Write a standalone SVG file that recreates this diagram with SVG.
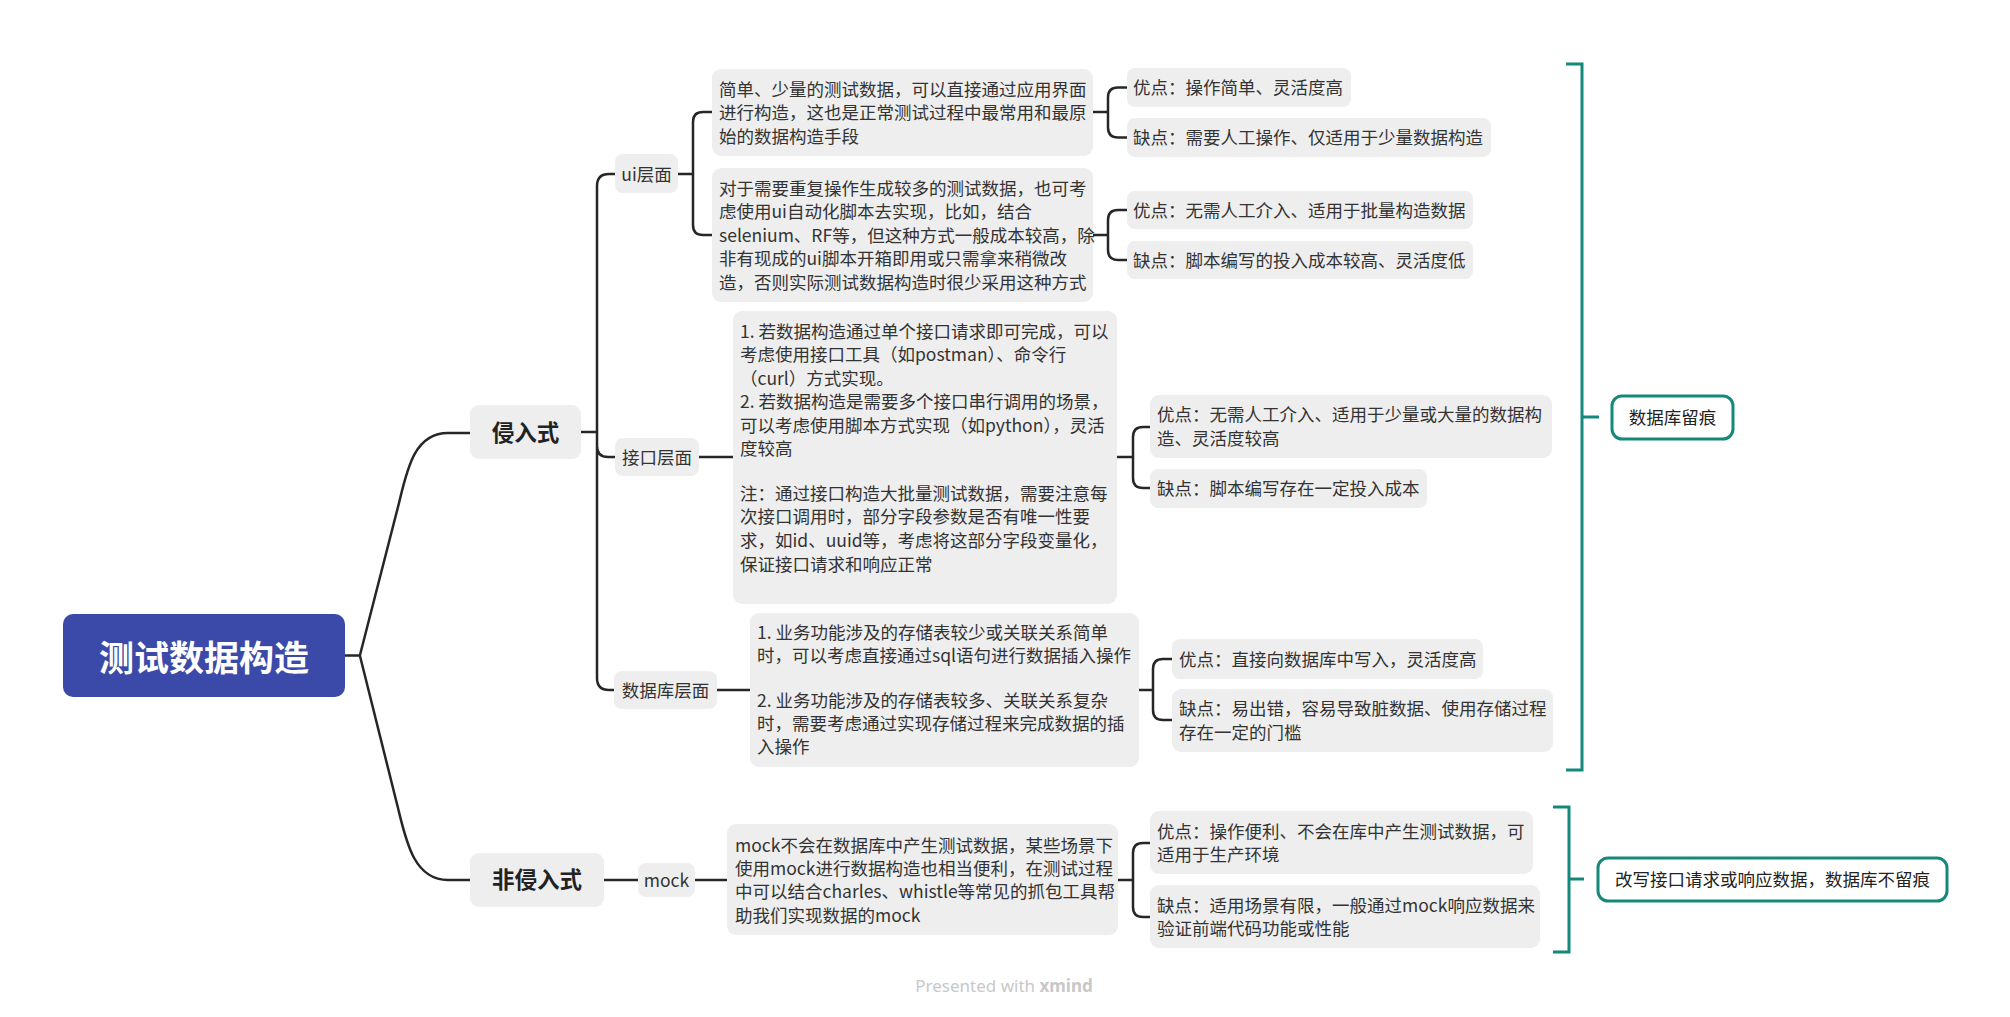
<svg xmlns="http://www.w3.org/2000/svg" width="2010" height="1017" viewBox="0 0 2010 1017">
<style>
.box{fill:#eeeeee}
.t{font-family:"Noto Sans CJK SC","Noto Sans",sans-serif;font-size:17.5px;fill:#333333}
.c{text-anchor:middle}
.b{font-weight:bold;font-size:22.5px;fill:#222222}
.conn{fill:none;stroke:#262626;stroke-width:2.5;stroke-linecap:round;stroke-linejoin:round}
.teal{fill:none;stroke:#12897b;stroke-width:3}
.lab{fill:#ffffff;stroke:#12897b;stroke-width:3}
</style>
<rect width="2010" height="1017" fill="#ffffff"/>
<g id="connectors">
<path class="conn" d="M345,655.5 H360 M360,655 L399,503 C407,470 414,433 448,433 H470"/>
<path class="conn" d="M360,656 L398,808 C406,841 414,880 448,880 H470"/>
<path class="conn" d="M581,432 H597 M615,174 H609 Q597,174 597,186 V678 Q597,690 609,690 H614 M597,446 Q597,457 608,457 H615"/>
<path class="conn" d="M678,174 H693 M712,112 H703 Q693,112 693,122 V225 Q693,235 703,235 H712"/>
<path class="conn" d="M1093,112 H1108 M1127,87.5 H1118 Q1108,87.5 1108,97.5 V127.5 Q1108,137.5 1118,137.5 H1127"/>
<path class="conn" d="M1093,235 H1108 M1127,210 H1118 Q1108,210 1108,220 V250 Q1108,260 1118,260 H1127"/>
<path class="conn" d="M699,457 H733 M1117,457 H1133 M1150,427 H1143 Q1133,427 1133,437 V478 Q1133,488 1143,488 H1150"/>
<path class="conn" d="M717,690 H750 M1139,690 H1153 M1172,659 H1163 Q1153,659 1153,669 V710 Q1153,720 1163,720 H1172"/>
<path class="conn" d="M604,880 H638 M695,880 H727 M1118,880 H1133 M1150,843 H1143 Q1133,843 1133,853 V907 Q1133,917 1143,917 H1150"/>
<path class="teal" d="M1566,64 H1582 V770 H1566 M1582,417 H1599"/>
<path class="teal" d="M1553,807 H1569 V952 H1553 M1569,879 H1584"/>
</g>
<g id="root">
<rect x="63" y="614" width="282" height="83" rx="10" fill="#3b4aa8"/>
<text class="t c" x="204" y="671" style="font-size:35px;font-weight:bold;fill:#ffffff">测试数据构造</text>
</g>
<g id="n-qrs">
<rect class="box" x="470" y="405" width="111" height="54" rx="9"/>
<text class="t c b" x="525.5" y="441">侵入式</text>
</g>
<g id="n-fqrs">
<rect class="box" x="470" y="853" width="134" height="54" rx="9"/>
<text class="t c b" x="537" y="888">非侵入式</text>
</g>
<g id="n-ui">
<rect class="box" x="615" y="154" width="63" height="39" rx="8"/>
<text class="t c" x="646.5" y="180.5">ui层面</text>
</g>
<g id="n-api">
<rect class="box" x="615" y="438" width="84" height="38" rx="8"/>
<text class="t c" x="657" y="463.5">接口层面</text>
</g>
<g id="n-db">
<rect class="box" x="614" y="671" width="103" height="38" rx="8"/>
<text class="t c" x="665.5" y="696.5">数据库层面</text>
</g>
<g id="n-mock">
<rect class="box" x="638" y="863" width="57" height="34" rx="8"/>
<text class="t c" x="666.5" y="886.5">mock</text>
</g>
<g id="n-a1">
<rect class="box" x="712" y="69" width="381" height="87" rx="9"/>
<text class="t" x="719" y="95.5">简单、少量的测试数据，可以直接通过应用界面</text>
<text class="t" x="719" y="119">进行构造，这也是正常测试过程中最常用和最原</text>
<text class="t" x="719" y="142.5">始的数据构造手段</text>
</g>
<g id="n-a2">
<rect class="box" x="712" y="168" width="381" height="134" rx="9"/>
<text class="t" x="719" y="194.5">对于需要重复操作生成较多的测试数据，也可考</text>
<text class="t" x="719" y="218">虑使用ui自动化脚本去实现，比如，结合</text>
<text class="t" x="719" y="241.5">selenium、RF等，但这种方式一般成本较高，除</text>
<text class="t" x="719" y="265">非有现成的ui脚本开箱即用或只需拿来稍微改</text>
<text class="t" x="719" y="288.5">造，否则实际测试数据构造时很少采用这种方式</text>
</g>
<g id="n-b1">
<rect class="box" x="1127" y="68" width="224" height="39" rx="8"/>
<text class="t" x="1133" y="94">优点：操作简单、灵活度高</text>
</g>
<g id="n-b2">
<rect class="box" x="1127" y="118" width="364" height="39" rx="8"/>
<text class="t" x="1133" y="144">缺点：需要人工操作、仅适用于少量数据构造</text>
</g>
<g id="n-b3">
<rect class="box" x="1127" y="191" width="346" height="38" rx="8"/>
<text class="t" x="1133" y="216.5">优点：无需人工介入、适用于批量构造数据</text>
</g>
<g id="n-b4">
<rect class="box" x="1127" y="241" width="346" height="38" rx="8"/>
<text class="t" x="1133" y="266.5">缺点：脚本编写的投入成本较高、灵活度低</text>
</g>
<g id="n-c">
<rect class="box" x="733" y="311" width="384" height="293" rx="9"/>
<text class="t" x="740" y="337.5">1. 若数据构造通过单个接口请求即可完成，可以</text>
<text class="t" x="740" y="361">考虑使用接口工具（如postman）、命令行</text>
<text class="t" x="740" y="384.5">（curl）方式实现。</text>
<text class="t" x="740" y="408">2. 若数据构造是需要多个接口串行调用的场景，</text>
<text class="t" x="740" y="431.5">可以考虑使用脚本方式实现（如python），灵活</text>
<text class="t" x="740" y="455">度较高</text>
<text class="t" x="740" y="499.5">注：通过接口构造大批量测试数据，需要注意每</text>
<text class="t" x="740" y="523">次接口调用时，部分字段参数是否有唯一性要</text>
<text class="t" x="740" y="546.5">求，如id、uuid等，考虑将这部分字段变量化，</text>
<text class="t" x="740" y="570.5">保证接口请求和响应正常</text>
</g>
<g id="n-d1">
<rect class="box" x="1150" y="395" width="402" height="63" rx="9"/>
<text class="t" x="1157" y="421">优点：无需人工介入、适用于少量或大量的数据构</text>
<text class="t" x="1157" y="445">造、灵活度较高</text>
</g>
<g id="n-d2">
<rect class="box" x="1150" y="469" width="277" height="39" rx="8"/>
<text class="t" x="1157" y="494.5">缺点：脚本编写存在一定投入成本</text>
</g>
<g id="n-e">
<rect class="box" x="750" y="613" width="389" height="154" rx="9"/>
<text class="t" x="757" y="638.5">1. 业务功能涉及的存储表较少或关联关系简单</text>
<text class="t" x="757" y="661.5">时，可以考虑直接通过sql语句进行数据插入操作</text>
<text class="t" x="757" y="706.5">2. 业务功能涉及的存储表较多、关联关系复杂</text>
<text class="t" x="757" y="729.5">时，需要考虑通过实现存储过程来完成数据的插</text>
<text class="t" x="757" y="752.5">入操作</text>
</g>
<g id="n-f1">
<rect class="box" x="1172" y="639" width="311" height="40" rx="8"/>
<text class="t" x="1179" y="665.5">优点：直接向数据库中写入，灵活度高</text>
</g>
<g id="n-f2">
<rect class="box" x="1172" y="689" width="381" height="63" rx="9"/>
<text class="t" x="1179" y="714.5">缺点：易出错，容易导致脏数据、使用存储过程</text>
<text class="t" x="1179" y="738.5">存在一定的门槛</text>
</g>
<g id="n-g">
<rect class="box" x="727" y="824" width="391" height="111" rx="9"/>
<text class="t" x="735" y="851.5">mock不会在数据库中产生测试数据，某些场景下</text>
<text class="t" x="735" y="874.5">使用mock进行数据构造也相当便利，在测试过程</text>
<text class="t" x="735" y="897.5">中可以结合charles、whistle等常见的抓包工具帮</text>
<text class="t" x="735" y="921.5">助我们实现数据的mock</text>
</g>
<g id="n-h1">
<rect class="box" x="1150" y="811" width="383" height="63" rx="9"/>
<text class="t" x="1157" y="837.5">优点：操作便利、不会在库中产生测试数据，可</text>
<text class="t" x="1157" y="861">适用于生产环境</text>
</g>
<g id="n-h2">
<rect class="box" x="1150" y="885" width="390" height="63" rx="9"/>
<text class="t" x="1157" y="911.5">缺点：适用场景有限，一般通过mock响应数据来</text>
<text class="t" x="1157" y="935">验证前端代码功能或性能</text>
</g>
<g id="label-1">
<rect class="lab" x="1612" y="396" width="121" height="43" rx="10"/>
<text class="t c" x="1672.5" y="424" style="fill:#222222">数据库留痕</text>
</g>
<g id="label-2">
<rect class="lab" x="1598" y="858" width="349" height="43" rx="10"/>
<text class="t c" x="1772.5" y="886" style="fill:#222222">改写接口请求或响应数据，数据库不留痕</text>
</g>
<text x="1004" y="992" text-anchor="middle" style="font-family:'Noto Sans','Open Sans',sans-serif;font-size:17px;fill:#c8c8c8">Presented with <tspan font-weight="bold">xmind</tspan></text>
</svg>
